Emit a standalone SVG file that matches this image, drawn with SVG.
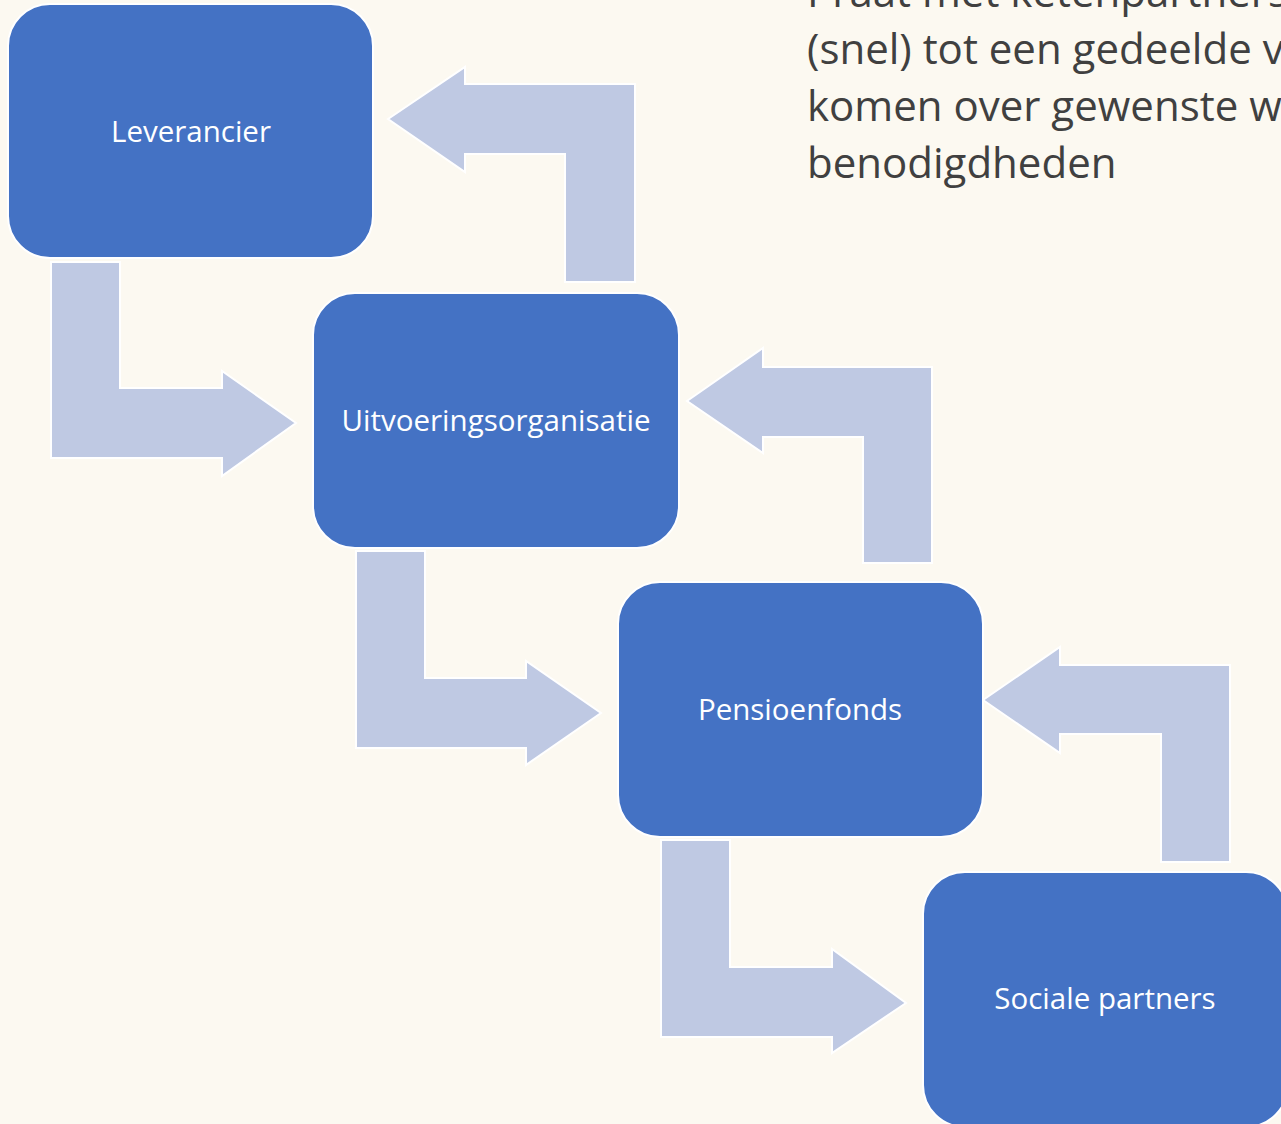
<svg xmlns="http://www.w3.org/2000/svg" width="1281" height="1124" viewBox="0 0 1281 1124">
<style>
.bg{fill:#FCF9F1}
.node rect{fill:#4472C4;stroke:#FFFFFF;stroke-width:2}
.node text{fill:#FFFFFF;font-family:"Open Sans","Noto Sans",sans-serif;font-size:29.5px;text-anchor:middle}
.arrow{fill:#BFC9E3;stroke:#FFFFFF;stroke-width:2;stroke-linejoin:miter}
.note{fill:#404040;font-family:"Open Sans","Noto Sans",sans-serif;font-size:42px}
</style>
<rect class="bg" x="0" y="0" width="1281" height="1124"/>
<g id="note">
<text class="note" x="807" y="7">Praat met ketenpartners</text>
<text class="note" x="807" y="64">(snel) tot een gedeelde v</text>
<text class="note" x="807" y="121">komen over gewenste we</text>
<text class="note" x="807" y="178">benodigdheden</text>
</g>
<g id="connectors">
<polygon class="arrow" points="388,119 465,67 465,84 635,84 635,282 565,282 565,154 465,154 465,172"/>
<polygon class="arrow" points="51,262 120,262 120,388 222,388 222,371 296,423 222,476 222,458 51,458"/>
<polygon class="arrow" points="687,401 763,348 763,367 932,367 932,563 863,563 863,437 763,437 763,453"/>
<polygon class="arrow" points="356,551 425,551 425,678 526,678 526,661 601,713 526,765 526,748 356,748"/>
<polygon class="arrow" points="983,700 1060,647 1060,665 1230,665 1230,862 1161,862 1161,734 1060,734 1060,753"/>
<polygon class="arrow" points="661,840 730,840 730,967 832,967 832,949 906,1003 832,1053 832,1037 661,1037"/>
</g>
<g id="node-leverancier" class="node">
<rect x="8" y="4" width="365" height="254" rx="42" ry="42"/>
<text x="191" y="142">Leverancier</text>
</g>
<g id="node-uitvoeringsorganisatie" class="node">
<rect x="313" y="293" width="366" height="255" rx="42" ry="42"/>
<text x="496" y="431">Uitvoeringsorganisatie</text>
</g>
<g id="node-pensioenfonds" class="node">
<rect x="618" y="582" width="365" height="255" rx="42" ry="42"/>
<text x="800" y="720">Pensioenfonds</text>
</g>
<g id="node-sociale-partners" class="node">
<rect x="923" y="872" width="365" height="255" rx="42" ry="42"/>
<text x="1105" y="1009">Sociale partners</text>
</g>
</svg>
